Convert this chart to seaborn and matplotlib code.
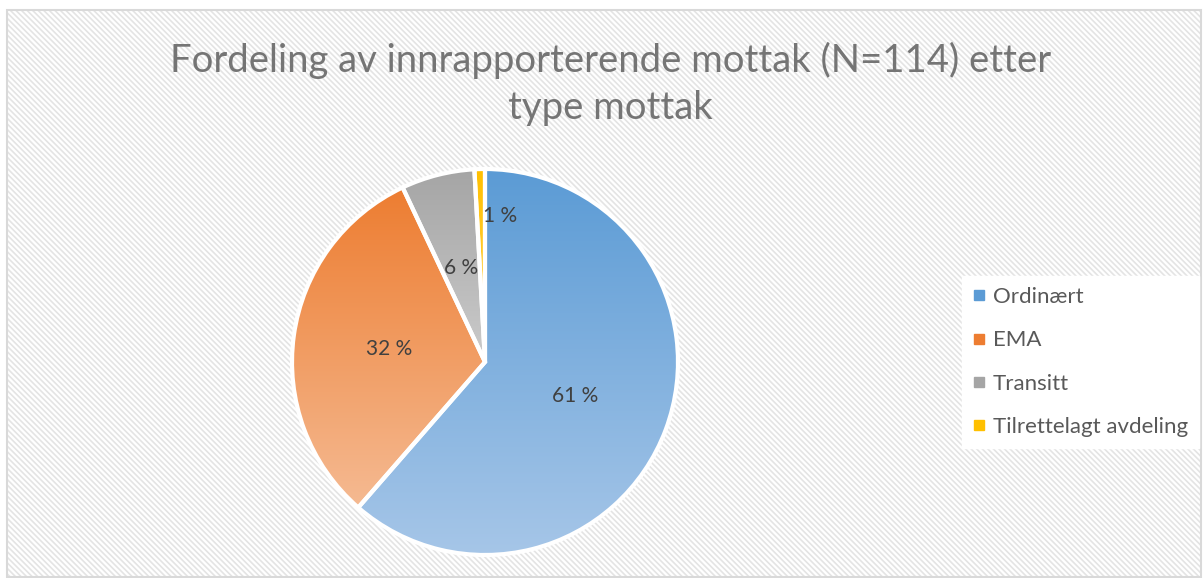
import matplotlib
matplotlib.use("Agg")
import matplotlib.pyplot as plt
import seaborn as sns
import numpy as np
from matplotlib.colors import LinearSegmentedColormap, to_rgb
from matplotlib.lines import Line2D
from matplotlib.patches import Rectangle

# data
categories = ["Ordinært", "EMA", "Transitt", "Tilrettelagt avdeling"]
counts = [70, 36, 7, 1]
top_colors = ["#5B9BD5", "#ED7D31", "#A5A5A5", "#FFC000"]
bottom_colors = ["#A6C6E8", "#F5BA92", "#CBCBCB", "#FFD65E"]
title = "Fordeling av innrapporterende mottak (N=114) etter\ntype mottak"

sns.set_theme(style="white")
plt.rcParams["font.family"] = ["Lato", "DejaVu Sans"]
plt.rcParams["hatch.color"] = "#E4E4E4"
plt.rcParams["hatch.linewidth"] = 1.2

W, H = 1203, 578
fig = plt.figure(figsize=(W / 100, H / 100), dpi=100)
fig.patch.set_facecolor("white")

ax = fig.add_axes([0, 0, 1, 1])
ax.set_xlim(0, W)
ax.set_ylim(0, H)
ax.axis("off")

# chart area background with fine diagonal stripes
bg = Rectangle((7, 1), W - 9, H - 11, facecolor="white", edgecolor="#E4E4E4",
               hatch="\\" * 6, linewidth=0, zorder=0)
ax.add_patch(bg)
bg_edge = Rectangle((7, 1), W - 9, H - 11, facecolor="none", edgecolor="#D9D9D9",
                    linewidth=1.5, zorder=0.5)
ax.add_patch(bg_edge)

cx, cy, r = 485, H - 362, 193
wedges, texts, autotexts = ax.pie(
    counts, center=(cx, cy), radius=r, startangle=90, counterclock=False,
    colors=top_colors, autopct=lambda p: f"{p:.0f} %", pctdistance=0.5,
    wedgeprops=dict(edgecolor="white", linewidth=3),
    textprops=dict(color="#404040", fontsize=15), frame=True)
ax.set_xlim(0, W)
ax.set_ylim(0, H)
ax.set_aspect("auto")
ax.axis("off")

# vertical gradient fill clipped to each wedge
grad = np.linspace(0, 1, 256).reshape(-1, 1)
for w, c1, c2 in zip(wedges, top_colors, bottom_colors):
    w.set_zorder(3)
    w.set_facecolor("none")
    ext = w.get_path().get_extents().transformed(w.get_patch_transform())
    cmap = LinearSegmentedColormap.from_list("g", [to_rgb(c1), to_rgb(c2)])
    im = ax.imshow(grad, cmap=cmap, aspect="auto", origin="upper",
                   extent=[ext.x0, ext.x1, ext.y0, ext.y1], zorder=2)
    im.set_clip_path(w)
ax.set_xlim(0, W)
ax.set_ylim(0, H)
for t in autotexts:
    t.set_zorder(4)

# smallest slice label is pushed out to the side like in the original
ang = np.deg2rad(84)
autotexts[3].set_position((cx + 0.76 * r * np.cos(ang), cy + 0.76 * r * np.sin(ang)))

fig.text(0.5075, 1 - 84 / H, title, ha="center", va="center", fontsize=27.5,
         color="#757575", linespacing=1.38)

handles = [Line2D([0], [0], marker="s", linestyle="", markersize=7,
                  markerfacecolor=c, markeredgecolor=c) for c in top_colors]
leg = fig.legend(handles, categories, loc="center left",
                 bbox_to_anchor=(962 / W, 1 - 362 / H), frameon=True,
                 fontsize=16, labelcolor="#595959", handlelength=0.5,
                 handletextpad=0.4, labelspacing=1.05, borderpad=0.5,
                 borderaxespad=0)
leg.get_frame().set_facecolor("white")
leg.get_frame().set_edgecolor("white")
leg.get_frame().set_alpha(1)
leg.get_frame().set_boxstyle("square", pad=0)

fig.savefig("out.png", dpi=100, facecolor="white")
